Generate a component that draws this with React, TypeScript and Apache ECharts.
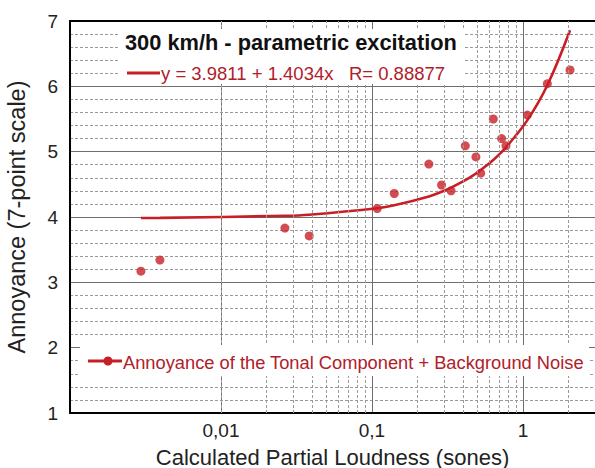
import React, { useEffect, useRef } from "react";
import * as echarts from "echarts";

// Measured points: Calculated Partial Loudness (sones) vs Annoyance
const loudness = [0.00295, 0.00394, 0.0265, 0.0384, 0.1084, 0.1405, 0.238, 0.289, 0.334, 0.415, 0.488, 0.525, 0.636, 0.722, 0.772, 1.07, 1.45, 2.05];
const annoyance = [3.17, 3.34, 3.83, 3.71, 4.13, 4.36, 4.81, 4.49, 4.40, 5.09, 4.92, 4.67, 5.50, 5.20, 5.09, 5.56, 6.04, 6.25];

// Regression shown in the chart: y = 3.9811 + 1.4034x
const FIT_INTERCEPT = 3.9811;
const FIT_SLOPE = 1.4034;

const xMinorValues = [0.002, 0.003, 0.004, 0.005, 0.006, 0.007, 0.008, 0.009,
  0.02, 0.03, 0.04, 0.05, 0.06, 0.07, 0.08, 0.09,
  0.2, 0.3, 0.4, 0.5, 0.6, 0.7, 0.8, 0.9, 2];
const xTickLabels: Record<string, string> = { "-2": "0,01", "-1": "0,1", "0": "1" };

const titleText = "300 km/h - parametric excitation";
const fitText = "y = 3.9811 + 1.4034x   R= 0.88877";
const seriesName = "Annoyance of the Tonal Component + Background Noise";

const RED = "#c81f27";
const TEXT_RED = "#b0202a";
const FONT = "'Liberation Sans', Arial, sans-serif";
const W = 595;
const H = 468;

export default function App() {
  const ref = useRef<HTMLDivElement>(null);
  useEffect(() => {
    if (!ref.current) return;
    const chart = echarts.init(ref.current, undefined, { renderer: "svg", width: W, height: H });
    const scatterData = loudness.map((x, i) => [x, annoyance[i]]);
    const sortedX = [...loudness].sort((a, b) => a - b);
    const fitData = sortedX.map((x) => [x, FIT_INTERCEPT + FIT_SLOPE * x]);

    chart.setOption({
      animation: false,
      backgroundColor: "#fff",
      grid: { left: 70, right: 0, top: 21, bottom: 55, containLabel: false, outerBoundsMode: "none" },
      xAxis: [
        {
          type: "log",
          logBase: 10,
          min: 0.001,
          max: 3,
          name: "Calculated Partial Loudness (sones)",
          nameLocation: "middle",
          nameGap: 33,
          nameTextStyle: { fontFamily: FONT, fontSize: 22, color: "#222" },
          axisLine: { show: true, lineStyle: { color: "#000", width: 2 } },
          axisTick: { show: false },
          axisLabel: {
            fontFamily: FONT,
            fontSize: 19,
            color: "#222",
            margin: 8,
            formatter: (v: number) => {
              const l = Math.log10(v);
              const r = Math.round(l);
              if (Math.abs(l - r) > 1e-6) return "";
              return xTickLabels[String(r)] ?? "";
            },
          },
          splitLine: { show: true, lineStyle: { color: "#6e6e6e", width: 1 } },
        },
        {
          type: "log",
          logBase: 10,
          min: 0.001,
          max: 3,
          position: "top",
          axisLine: { show: true, lineStyle: { color: "#000", width: 2 } },
          axisTick: { show: false },
          axisLabel: { show: false },
          splitLine: { show: false },
        },
      ],
      yAxis: {
        type: "value",
        min: 1,
        max: 7,
        interval: 1,
        name: "Annoyance (7-point scale)",
        nameLocation: "middle",
        nameGap: 41,
        nameTextStyle: { fontFamily: FONT, fontSize: 23.5, color: "#222" },
        axisLine: { show: true, lineStyle: { color: "#000", width: 2 } },
        axisTick: { show: false },
        axisLabel: { fontFamily: FONT, fontSize: 19, color: "#222", margin: 12 },
        splitLine: { show: true, lineStyle: { color: "#6e6e6e", width: 1 } },
        minorTick: { show: false, splitNumber: 5 },
        minorSplitLine: { show: true, lineStyle: { color: "#9a9a9a", width: 1, type: [3, 2] } },
      },
      series: [
        {
          type: "line",
          xAxisIndex: 0,
          data: [],
          z: 1,
          silent: true,
          markLine: {
            silent: true,
            symbol: "none",
            label: { show: false },
            lineStyle: { color: "#9a9a9a", width: 1, type: [3, 2] },
            data: xMinorValues.map((v) => ({ xAxis: v })),
          },
        },
        {
          name: "fit",
          type: "line",
          xAxisIndex: 0,
          data: fitData,
          smooth: 0.4,
          showSymbol: false,
          lineStyle: { color: RED, width: 2.6 },
          z: 3,
        },
        {
          name: seriesName,
          type: "scatter",
          xAxisIndex: 0,
          data: scatterData,
          symbol: "circle",
          symbolSize: 9,
          itemStyle: { color: RED },
          z: 4,
        },
      ],
      graphic: [
        { type: "rect", z: 20, shape: { x: 118, y: 29, width: 347, height: 55 }, style: { fill: "#fff" } },
        {
          type: "text", z: 21, x: 125, y: 42,
          style: { text: titleText, font: `bold 21.8px ${FONT}`, fill: "#111", verticalAlign: "middle" },
        },
        { type: "line", z: 21, shape: { x1: 127, y1: 73, x2: 160, y2: 73 }, style: { stroke: RED, lineWidth: 3 } },
        {
          type: "text", z: 21, x: 161, y: 73,
          style: { text: fitText, font: `18.5px ${FONT}`, fill: TEXT_RED, verticalAlign: "middle" },
        },
        { type: "rect", z: 20, shape: { x: 80, y: 345, width: 509, height: 31 }, style: { fill: "#fff" } },
        { type: "line", z: 21, shape: { x1: 88, y1: 361, x2: 122, y2: 361 }, style: { stroke: RED, lineWidth: 3 } },
        { type: "circle", z: 22, shape: { cx: 108, cy: 361, r: 4.5 }, style: { fill: RED } },
        {
          type: "text", z: 21, x: 123, y: 362,
          style: { text: seriesName, font: `18.3px ${FONT}`, fill: TEXT_RED, verticalAlign: "middle" },
        },
      ],
    });
    return () => chart.dispose();
  }, []);
  return (
    <div
      ref={ref}
      style={{ position: "fixed", left: 0, top: 0, width: W, height: H, background: "#fff" }}
    />
  );
}
